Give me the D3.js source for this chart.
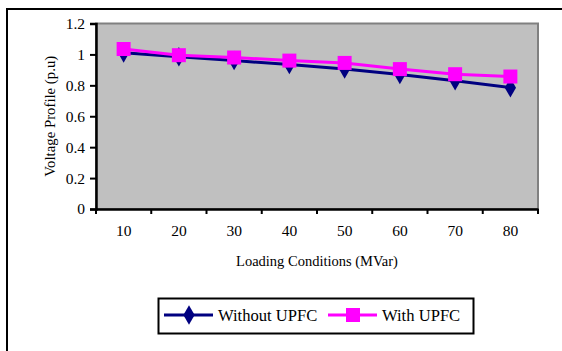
<!DOCTYPE html>
<html>
<head>
<meta charset="utf-8">
<script src="https://cdn.jsdelivr.net/npm/d3@7"></script>
<style>
  body { margin: 0; background: #fff; }
</style>
</head>
<body>
<svg id="chart" width="562" height="351"></svg>
<script>
// data
const loads = [10, 20, 30, 40, 50, 60, 70, 80];
const withoutUpfc = [1.01, 0.985, 0.96, 0.935, 0.905, 0.87, 0.83, 0.785];
const withUpfc = [1.035, 0.995, 0.98, 0.96, 0.945, 0.905, 0.872, 0.857];
const yTicks = [0, 0.2, 0.4, 0.6, 0.8, 1, 1.2];

const serif = "'Liberation Serif', 'Times New Roman', Times, serif";
const svg = d3.select("#chart");

// outer frame (runs off the right and bottom)
svg.append("rect")
    .attr("x", 7).attr("y", 9)
    .attr("width", 600).attr("height", 400)
    .attr("fill", "none")
    .attr("stroke", "#000")
    .attr("stroke-width", 2);

const plot = { left: 96, top: 23.5, right: 538, bottom: 209 };

const x = d3.scaleBand()
    .domain(loads)
    .range([plot.left, plot.right]);

const y = d3.scaleLinear()
    .domain([0, 1.2])
    .range([plot.bottom, plot.top]);

// plot area
svg.append("rect")
    .attr("x", plot.left).attr("y", plot.top)
    .attr("width", plot.right - plot.left)
    .attr("height", plot.bottom - plot.top)
    .attr("fill", "#c0c0c0")
    .attr("stroke", "#808080")
    .attr("stroke-width", 2);

// y axis
const yAxis = svg.append("g")
    .attr("transform", `translate(${plot.left},0)`)
    .call(d3.axisLeft(y).tickValues(yTicks).tickSize(6).tickPadding(5)
        .tickFormat(d => String(+d.toFixed(1))));
yAxis.select(".domain").attr("stroke-width", 2.5);
yAxis.selectAll(".tick line").attr("stroke-width", 2);
yAxis.selectAll("text").style("font-size", "15.5px");

// x axis: ticks sit on the band edges
const xAxis = svg.append("g")
    .attr("transform", `translate(0,${plot.bottom})`)
    .call(d3.axisBottom(x).tickSize(0).tickPadding(16));
xAxis.select(".domain").attr("stroke-width", 2.5);
xAxis.selectAll("text").style("font-size", "15.5px");
xAxis.selectAll(".edge")
    .data(loads.concat([null]))
    .join("line")
    .attr("x1", (d, i) => i < loads.length ? x(d) : plot.right)
    .attr("x2", (d, i) => i < loads.length ? x(d) : plot.right)
    .attr("y1", 0).attr("y2", 5)
    .attr("stroke", "#000")
    .attr("stroke-width", 2);

// axis titles
svg.append("text")
    .attr("x", (plot.left + plot.right) / 2)
    .attr("y", 266)
    .attr("text-anchor", "middle")
    .style("font-size", "14.5px")
    .text("Loading Conditions (MVar)");

svg.append("text")
    .attr("transform", `translate(55,${(plot.top + plot.bottom) / 2}) rotate(-90)`)
    .attr("text-anchor", "middle")
    .style("font-size", "14.8px")
    .text("Voltage Profile (p.u)");

const cx = d => x(d) + x.bandwidth() / 2;
const line = d3.line().x((d, i) => cx(loads[i])).y(d => y(d));
const diamond = d3.symbol().type(d3.symbolDiamond).size(110);

// without UPFC
svg.append("path")
    .datum(withoutUpfc)
    .attr("d", line)
    .attr("fill", "none")
    .attr("stroke", "#000080")
    .attr("stroke-width", 3);
svg.selectAll(".dia")
    .data(withoutUpfc)
    .join("path")
    .attr("transform", (d, i) => `translate(${cx(loads[i])},${y(d)})`)
    .attr("d", diamond)
    .attr("fill", "#000080");

// with UPFC
svg.append("path")
    .datum(withUpfc)
    .attr("d", line)
    .attr("fill", "none")
    .attr("stroke", "#ff00ff")
    .attr("stroke-width", 3);
svg.selectAll(".sq")
    .data(withUpfc)
    .join("rect")
    .attr("x", (d, i) => cx(loads[i]) - 7)
    .attr("y", d => y(d) - 7)
    .attr("width", 14).attr("height", 14)
    .attr("fill", "#ff00ff");

// legend
const legend = svg.append("g");
legend.append("rect")
    .attr("x", 158.5).attr("y", 298.5)
    .attr("width", 315).attr("height", 35)
    .attr("fill", "#fff")
    .attr("stroke", "#000")
    .attr("stroke-width", 2);

const items = [
    { name: "Without UPFC", color: "#000080", x0: 164 },
    { name: "With UPFC", color: "#ff00ff", x0: 328 }
];
items.forEach(it => {
    legend.append("line")
        .attr("x1", it.x0).attr("x2", it.x0 + 49)
        .attr("y1", 315).attr("y2", 315)
        .attr("stroke", it.color)
        .attr("stroke-width", 3);
    if (it.name === "Without UPFC") {
        legend.append("path")
            .attr("transform", `translate(${it.x0 + 25},315)`)
            .attr("d", diamond)
            .attr("fill", it.color);
    } else {
        legend.append("rect")
            .attr("x", it.x0 + 18).attr("y", 308)
            .attr("width", 14).attr("height", 14)
            .attr("fill", it.color);
    }
    legend.append("text")
        .attr("x", it.x0 + 54)
        .attr("y", 320.5)
        .style("font-size", "16.6px")
        .text(it.name);
});

// everything in a Times-like face, black
svg.selectAll("text")
    .attr("font-family", null)
    .style("font-family", serif)
    .style("fill", "#000");
svg.selectAll("g").attr("font-family", serif);
</script>
</body>
</html>
